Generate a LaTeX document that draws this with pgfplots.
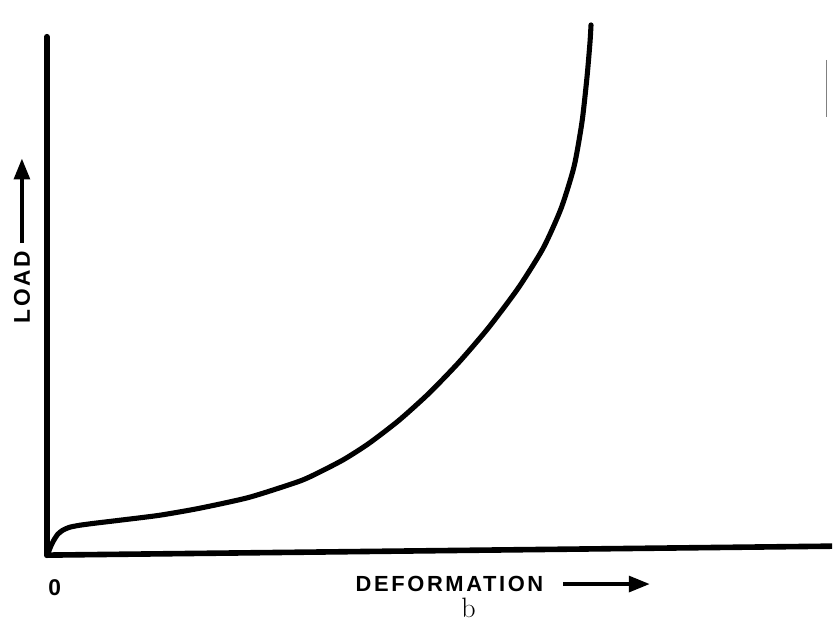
\documentclass[border=0pt]{standalone}
\usepackage{pgfplots}
\pgfplotsset{compat=1.18}
\usepackage{fontspec}
\usetikzlibrary{arrows.meta}
\newfontfamily\labfont[LetterSpace=12]{Liberation Sans}
\newfontfamily\zerofont{Liberation Sans}
\begin{document}
\begin{tikzpicture}
\begin{axis}[
  scale only axis, width=16.7cm, height=12.74cm,
  xmin=0, xmax=835, ymin=0, ymax=637,
  hide axis, clip=false]
\path (axis cs:0,0) rectangle (axis cs:835,637);
% axes
\addplot[black, line width=3.4pt, line cap=round] coordinates {(47,600) (47,80)};
\addplot[black, line width=3.2pt] coordinates {(46,80) (835,89)};
% curve
\addplot[black, line width=2.9pt, smooth, tension=0.4, line cap=round] coordinates {
(47,80)(49,84)(51,89)(54,95)(58,101)(63,105)(70,108)(80,110)(95,112)(120,115)
(160,120)(200,127)(250,138)(300,154)(320,163)(345,176)(370,192)(400,215)
(430,242)(460,273)(490,308)(520,348)(545,388)(563,428)(576,470)(584,515)
(589,560)(592,595)(593,612)};
% scan artifact
\addplot[gray, line width=0.6pt] coordinates {(829,577) (829,520)};
% labels
\node[rotate=90, font=\labfont\bfseries\fontsize{13}{13}\selectfont] at (axis cs:22,349) {LOAD};
\draw[line width=2.2pt, -{Triangle[length=12pt,width=9pt]}] (axis cs:22,393) -- (axis cs:22,478);
\node[font=\labfont\bfseries\fontsize{12.5}{12.5}\selectfont, inner sep=0pt] at (axis cs:451,51) {DEFORMATION};
\draw[line width=2.2pt, -{Triangle[length=12pt,width=9pt]}] (axis cs:565,51) -- (axis cs:652,51);
\node[font=\zerofont\bfseries\fontsize{13}{13}\selectfont] at (axis cs:55,47) {0};
\node[font=\fontsize{16}{16}\selectfont, inner sep=0pt] at (axis cs:470,27) {b};
\end{axis}
\end{tikzpicture}
\end{document}
